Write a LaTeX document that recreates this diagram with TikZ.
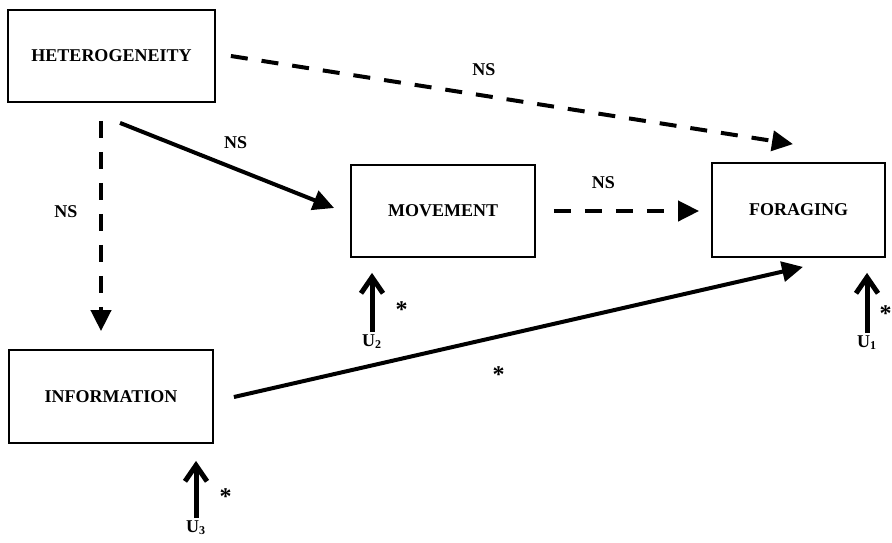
\documentclass[tikz,border=0pt]{standalone}
\usepackage{fontspec}
\setmainfont{Liberation Serif}
\usetikzlibrary{arrows.meta,calc,positioning}

\begin{document}
\begin{tikzpicture}[
    x=0.5pt, y=-0.5pt,
    box/.style={draw, line width=0.9pt, inner sep=0pt, font=\fontsize{9}{11}\selectfont\bfseries},
    lbl/.style={font=\fontsize{9}{11}\selectfont\bfseries, inner sep=1pt},
    star/.style={font=\fontsize{12}{14}\selectfont\bfseries, inner sep=0pt},
    arrow/.style={line width=2pt, -{Triangle[length=10.5pt,width=10pt]}},
    dasharrow/.style={arrow, dash pattern=on 8.5pt off 7pt},
    uarrow/.style={line width=2.5pt, -{Straight Barb[length=8pt,width=11pt]}}
]
    \useasboundingbox (0,0) rectangle (892,542);

    % Boxes
    \node[box, minimum width=103.5pt, minimum height=46pt] (HET) at (111.5,56) {HETEROGENEITY};
    \node[box, minimum width=92pt, minimum height=46pt] (MOV) at (443,211) {MOVEMENT};
    \node[box, minimum width=86.5pt, minimum height=47pt] (FOR) at (798.5,210) {FORAGING};
    \node[box, minimum width=102pt, minimum height=46.5pt] (INF) at (111,396.5) {INFORMATION};

    % Error terms
    \node[lbl] (U1) at (867,342.5) {U\textsubscript{1}};
    \node[lbl] (U2) at (372,341.5) {U\textsubscript{2}};
    \node[lbl] (U3) at (196,527.5) {U\textsubscript{3}};

    % Paths
    \draw[dasharrow] ($(HET.east)+(15,0)$) -- node[lbl, above=8pt, pos=0.45] (ns1) {NS} ($(FOR.north)+(-5.5,-18)$);
    \draw[arrow] ($(HET.south)+(8.5,20)$) -- node[lbl, above=8pt, pos=0.54] (ns2) {NS} ($(MOV.west)+(-16,-3)$);
    \draw[dasharrow] ($(HET.south)+(-10.5,18)$) -- node[lbl, left=9.75pt, pos=0.43] (ns3) {NS} ($(INF.north)+(-10,-18)$);
    \draw[dasharrow] ($(MOV.east)+(18,0)$) -- node[lbl, above=9pt, pos=0.34] (ns4) {NS} ($(FOR.west)+(-12,1)$);
    \draw[arrow] ($(INF.east)+(20,0.5)$) -- node[star, below=14pt, pos=0.465] (s4) {*} ($(FOR.south)+(4.5,9)$);

    % U arrows
    \draw[uarrow, shorten >=7.5pt] (U1.north) -- node[star, right=5pt, pos=0.26] (s1) {*} (U1.north |- FOR.south);
    \draw[uarrow, shorten >=7.5pt] (U2.north) -- node[star, right=10.5pt, pos=0.31] (s2) {*} (U2.north |- MOV.south);
    \draw[uarrow, shorten >=8.5pt] (U3.north) -- node[star, right=10.5pt, pos=0.29] (s3) {*} (U3.north |- INF.south);
\end{tikzpicture}
\end{document}
